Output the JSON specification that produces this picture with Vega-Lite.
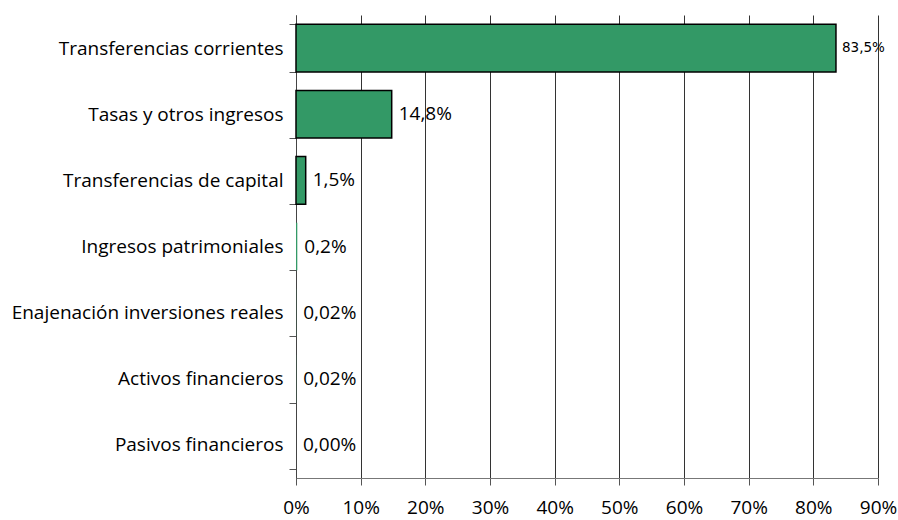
{
  "$schema": "https://vega.github.io/schema/vega-lite/v6.json",
  "autosize": "none",
  "width": 582,
  "height": 463,
  "padding": {"left": 296, "top": 15, "right": 20, "bottom": 42},
  "background": "white",
  "config": {"view": {"stroke": null}, "font": "Open Sans"},
  "data": {"values": [
    {"cat": "Transferencias corrientes", "pct": 83.5, "label": "83,5%"},
    {"cat": "Tasas y otros ingresos", "pct": 14.8, "label": "14,8%"},
    {"cat": "Transferencias de capital", "pct": 1.5, "label": "1,5%"},
    {"cat": "Ingresos patrimoniales", "pct": 0.2, "label": "0,2%"},
    {"cat": "Enajenación inversiones reales", "pct": 0.02, "label": "0,02%"},
    {"cat": "Activos financieros", "pct": 0.02, "label": "0,02%"},
    {"cat": "Pasivos financieros", "pct": 0.0, "label": "0,00%"}
  ]},
  "encoding": {
    "y": {"field": "cat", "type": "nominal", "sort": null,
      "scale": {"paddingInner": 0.28, "paddingOuter": 0.14},
      "axis": {"title": null, "labelFontSize": 19, "labelLimit": 500, "labelColor": "#000", "labelPadding": 6, "domainColor": "#444", "tickColor": "#555", "tickSize": 7, "tickBand": "extent", "labelFont": "Open Sans"}}
  },
  "layer": [
    {
      "mark": {"type": "bar", "color": "#339966", "stroke": "#000"},
      "encoding": {
        "x": {"field": "pct", "type": "quantitative",
          "scale": {"domain": [0, 90], "nice": false},
          "axis": {"title": null, "values": [0,10,20,30,40,50,60,70,80,90], "labelExpr": "datum.value + '%'", "labelFlush": false, "labelFontSize": 19, "labelColor": "#000", "labelPadding": 13, "grid": true, "gridColor": "#333", "gridOpacity": 1, "domainColor": "#777", "tickColor": "#555", "tickSize": 7, "labelFont": "Open Sans"}},
        "strokeWidth": {"condition": {"test": "datum.pct < 1", "value": 0}, "value": 1.5}
      }
    },
    {
      "transform": [{"filter": "datum.pct <= 50"}],
      "mark": {"type": "text", "align": "left", "baseline": "middle", "dx": 7, "font": "Open Sans", "fontSize": 19},
      "encoding": {
        "x": {"field": "pct", "type": "quantitative"},
        "text": {"field": "label"}
      }
    },
    {
      "transform": [{"filter": "datum.pct > 50"}],
      "mark": {"type": "text", "align": "left", "baseline": "middle", "dx": 6, "font": "DejaVu Sans", "fontSize": 13.5},
      "encoding": {
        "x": {"field": "pct", "type": "quantitative"},
        "text": {"field": "label"}
      }
    }
  ]
}
